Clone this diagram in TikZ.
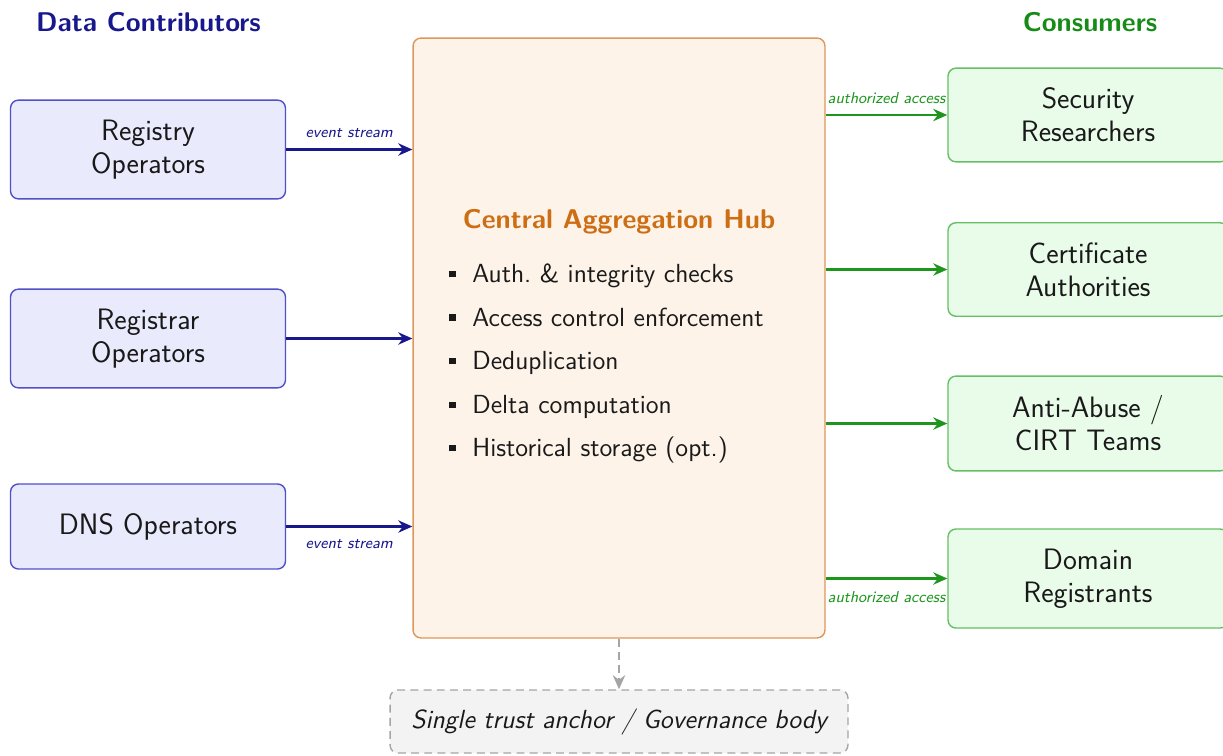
\documentclass[tikz,border=0pt]{standalone}
\usepackage{fontspec}
\usepackage{xcolor}
\usetikzlibrary{arrows, arrows.meta, positioning}

\definecolor{contribDark}{RGB}{24,24,140}
\definecolor{contribLine}{RGB}{80,80,200}
\definecolor{contribFill}{RGB}{233,234,252}
\definecolor{consDark}{RGB}{22,140,22}
\definecolor{consArrow}{RGB}{30,150,30}
\definecolor{consLine}{RGB}{100,192,100}
\definecolor{consFill}{RGB}{233,251,233}
\definecolor{hubLine}{RGB}{222,150,90}
\definecolor{hubFill}{RGB}{253,243,233}
\definecolor{hubTitle}{RGB}{205,110,20}
\definecolor{govLine}{RGB}{165,165,165}
\definecolor{govFill}{RGB}{243,243,243}
\definecolor{textDark}{RGB}{25,25,25}

\newcommand{\hubitem}{\rule[0.2em]{3.6pt}{3.6pt}\hspace{9.5pt}}

\begin{document}
\begin{tikzpicture}[
        x=0.02cm, y=-0.02cm,
        srcbox/.style={rectangle, draw=contribLine, fill=contribFill, line width=0.8pt, rounded corners=4.5pt, minimum width=5.5cm, minimum height=1.7cm, inner ysep=0.395cm, align=center, text=textDark, font=\sffamily\fontsize{16.8}{18.8}\selectfont},
        dstbox/.style={srcbox, draw=consLine, fill=consFill, minimum width=5.6cm},
        hubbox/.style={rectangle, draw=hubLine, fill=hubFill, line width=0.8pt, rounded corners=4.5pt, minimum width=8.24cm, minimum height=12cm},
        govbox/.style={rectangle, draw=govLine, fill=govFill, line width=0.8pt, dash pattern=on 4.5pt off 3pt, rounded corners=4.5pt, minimum width=9.16cm, minimum height=1.26cm, text=textDark, font=\sffamily\itshape\fontsize{14.9}{17}\selectfont},
        coltitle/.style={font=\sffamily\bfseries\fontsize{15.4}{18}\selectfont},
        inarrow/.style={->, >={Stealth[length=8pt, width=7pt]}, line width=1.4pt, color=contribDark},
        outarrow/.style={inarrow, color=consArrow},
        govarrow/.style={inarrow, color=govLine, dash pattern=on 4.5pt off 3pt},
        lab/.style={font=\sffamily\itshape\fontsize{9}{10}\selectfont, inner sep=1pt}
    ]
    \useasboundingbox (0,0) rectangle (1223,755);

    % column headings
    \node (srctitle) [coltitle, text=contribDark] at (148.5,22) {Data Contributors};
    \node (dsttitle) [coltitle, text=consDark] at (1090,22) {Consumers};

    % central hub
    \node (hub) [hubbox] at (619,338) {};
    \node (hubname) [font=\sffamily\bfseries\fontsize{15.4}{18}\selectfont, text=hubTitle] at (619,222) {Central Aggregation Hub};
    \node (hubtasks) [anchor=west, inner sep=0pt, align=left, text=textDark, font=\sffamily\fontsize{14.9}{24.8}\selectfont] at (449,363.5)
        {\hubitem Auth.\ \& integrity checks \\ \hubitem Access control enforcement \\ \hubitem Deduplication \\ \hubitem Delta computation \\ \hubitem Historical storage (opt.)};

    % contributors
    \node (registry)  [srcbox] at (148,149.5) {Registry \\ Operators};
    \node (registrar) [srcbox] at (148,338.5) {Registrar \\ Operators};
    \node (dns)       [srcbox] at (148,526.5) {DNS Operators};

    % consumers
    \node (research) [dstbox] at (1088,115)   {Security \\ Researchers};
    \node (ca)       [dstbox] at (1088,269.5) {Certificate \\ Authorities};
    \node (abuse)    [dstbox] at (1088,423.5) {Anti-Abuse / \\ CIRT Teams};
    \node (domreg)   [dstbox] at (1088,578.5) {Domain \\ Registrants};

    % governance
    \node (gov) [govbox] at (619,721.5) {Single trust anchor / Governance body};

    % incoming streams
    \draw [inarrow] (registry.east)  -- (registry.east -| hub.west) node[lab, midway, above=5pt, text=contribDark] {event stream};
    \draw [inarrow] (registrar.east) -- (registrar.east -| hub.west);
    \draw [inarrow] (dns.east)       -- (dns.east -| hub.west) node[lab, midway, below=5.5pt, text=contribDark] {event stream};

    % outgoing access
    \draw [outarrow] (hub.east |- research.west) -- (research.west) node[lab, midway, above=5pt, text=consArrow] {authorized access};
    \draw [outarrow] (hub.east |- ca.west)       -- (ca.west);
    \draw [outarrow] (hub.east |- abuse.west)    -- (abuse.west);
    \draw [outarrow] (hub.east |- domreg.west)   -- (domreg.west) node[lab, midway, below=5.5pt, text=consArrow] {authorized access};

    \draw [govarrow] (hub.south) -- (gov.north);

\end{tikzpicture}
\end{document}
